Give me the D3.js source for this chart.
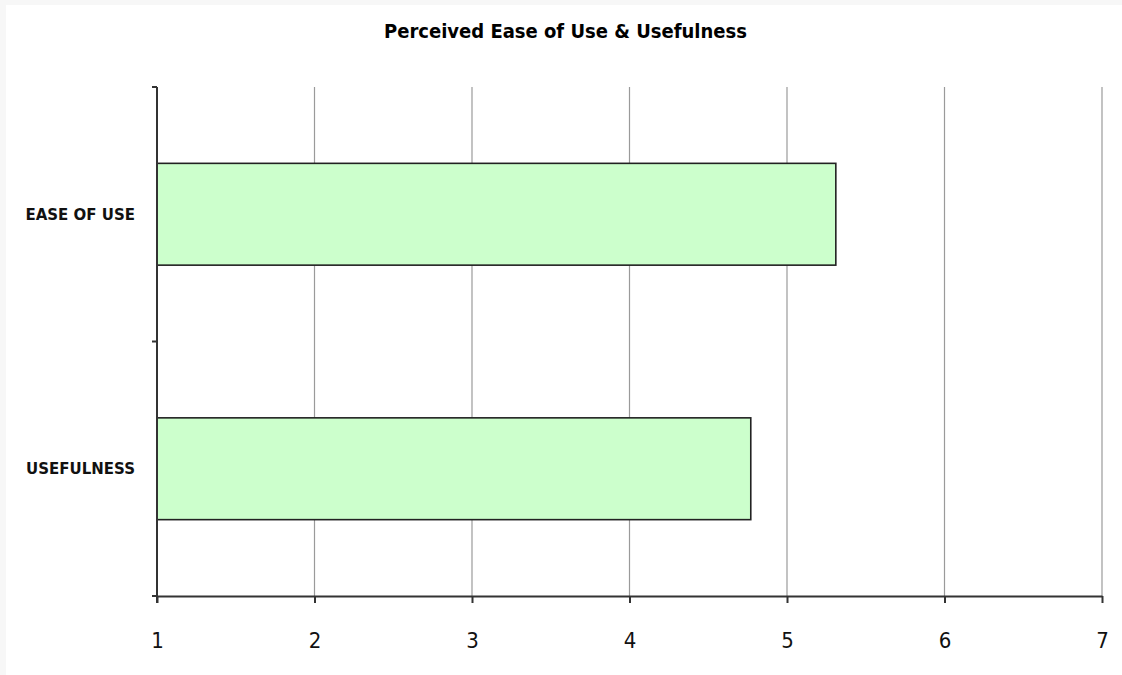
<!DOCTYPE html>
<html>
<head>
<meta charset="utf-8">
<script src="https://cdn.jsdelivr.net/npm/d3@7"></script>
<style>
  html, body { margin: 0; padding: 0; background: #f7f7f7; }
  svg { display: block; }
</style>
</head>
<body>
<svg id="chart" width="1122" height="675"></svg>
<script>
const categories = ["EASE OF USE", "USEFULNESS"];
const values = [5.31, 4.77];
const xTicks = [1, 2, 3, 4, 5, 6, 7];
const title = "Perceived Ease of Use & Usefulness";

const svg = d3.select("#chart");
const W = 1122, H = 675;
const m = { left: 157, right: 20, top: 87, bottom: 79 };
const x0 = m.left, x1 = W - m.right, y0 = m.top, y1 = H - m.bottom;

svg.append("rect").attr("x", 6).attr("y", 5).attr("width", W - 6).attr("height", H - 5).attr("fill", "#ffffff");

const x = d3.scaleLinear().domain([1, 7]).range([x0, x1]);
const y = d3.scaleBand().domain(categories).range([y0, y1]).paddingInner(0.6).paddingOuter(0.3);

// gridlines
svg.append("g").selectAll("line").data(xTicks.slice(1)).join("line")
  .attr("x1", d => x(d)).attr("x2", d => x(d))
  .attr("y1", y0).attr("y2", y1)
  .attr("stroke", "#9a9a9a").attr("stroke-width", 1.2);

// bars
svg.append("g").selectAll("rect").data(categories).join("rect")
  .attr("x", x(1))
  .attr("y", d => y(d))
  .attr("width", (d, i) => x(values[i]) - x(1))
  .attr("height", y.bandwidth())
  .attr("fill", "#ccffcc")
  .attr("stroke", "#222")
  .attr("stroke-width", 1.6);

// x axis
const xAxis = svg.append("g").attr("transform", `translate(0,${y1})`)
  .call(d3.axisBottom(x).tickValues(xTicks).tickFormat(d3.format("d")).tickSize(7).tickSizeOuter(0).tickPadding(29));
xAxis.select(".domain").attr("stroke", "#333").attr("stroke-width", 2);
xAxis.selectAll(".tick line").attr("stroke", "#333").attr("stroke-width", 2);
xAxis.selectAll("text").attr("font-family", "'DejaVu Sans Condensed', 'DejaVu Sans', sans-serif")
  .attr("font-size", 22).attr("fill", "#111");
// extend x axis left past y axis
svg.append("line").attr("x1", x0 - 5).attr("x2", x0).attr("y1", y1).attr("y2", y1)
  .attr("stroke", "#333").attr("stroke-width", 2);

// y axis line + boundary ticks
const bounds = [y0, ...categories.slice(1).map(c => y(c) - y.step() * y.paddingInner() / 2), y1];
svg.append("line").attr("x1", x0).attr("x2", x0).attr("y1", y0).attr("y2", y1 + 7)
  .attr("stroke", "#333").attr("stroke-width", 2);
svg.append("g").selectAll("line").data(bounds).join("line")
  .attr("x1", x0 - 5).attr("x2", x0).attr("y1", d => d).attr("y2", d => d)
  .attr("stroke", "#333").attr("stroke-width", 2);

// category labels
svg.append("g").selectAll("text").data(categories).join("text")
  .attr("x", 135)
  .attr("y", d => y(d) + y.bandwidth() / 2)
  .attr("dy", "0.35em")
  .attr("text-anchor", "end")
  .attr("font-family", "'DejaVu Sans', sans-serif")
  .attr("font-weight", "bold")
  .attr("font-size", 15)
  .attr("fill", "#111")
  .text(d => d);

// title
svg.append("text")
  .attr("x", 565.5).attr("y", 38)
  .attr("text-anchor", "middle")
  .attr("font-family", "'DejaVu Sans Condensed', 'DejaVu Sans', sans-serif")
  .attr("font-weight", "bold")
  .attr("font-size", 20)
  .attr("fill", "#000")
  .text(title);
</script>
</body>
</html>
